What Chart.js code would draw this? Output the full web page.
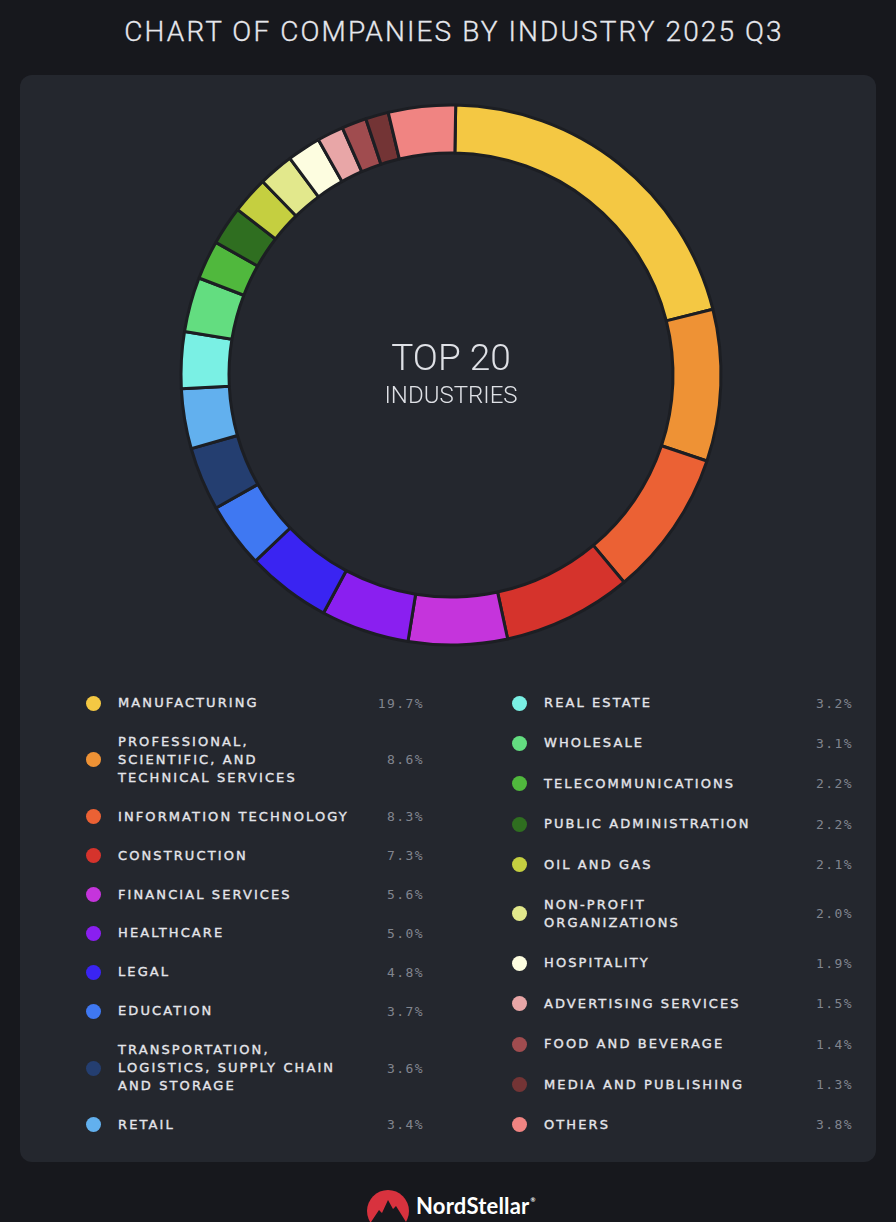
<!DOCTYPE html>
<html>
<head>
<meta charset="utf-8">
<script src="https://cdn.jsdelivr.net/npm/chart.js@4.4.1/dist/chart.umd.min.js"></script>
<style>
  html, body { margin: 0; padding: 0; }
  body { width: 896px; height: 1222px; background: #17181d; position: relative; overflow: hidden; font-family: "DejaVu Sans", sans-serif; }
  #title { position: absolute; left: 6px; top: 14px; width: 896px; text-align: center; color: #e6e7ec;
           font-family: Roboto, sans-serif; font-weight: 300; font-size: 28px; letter-spacing: 2.1px; line-height: 36px;
           -webkit-text-stroke: 0.3px #e6e7ec; }
  #card { position: absolute; left: 20px; top: 75px; width: 856px; height: 1087px; background: #24272e; border-radius: 12px; }
  #donut { position: absolute; left: 171px; top: 95px; }
  #center { position: absolute; left: 251px; top: 336px; width: 400px; text-align: center; color: #dfe1e6; font-family: Roboto, sans-serif; font-weight: 300; }
  #center .big { font-size: 37px; line-height: 44px; }
  #center .small { font-size: 24px; line-height: 30px; }
  .col { position: absolute; top: 694px; height: 440px; display: flex; flex-direction: column; justify-content: space-between; }
  #colL { left: 86px; width: 338px; }
  #colR { left: 512px; width: 341px; }
  .row { display: flex; align-items: center; }
  .dot { width: 15px; height: 15px; border-radius: 50%; flex: 0 0 15px; }
  .lbl { margin-left: 17px; color: #e4e5ea; font-size: 13px; letter-spacing: 2.1px; line-height: 18px; width: 232px;
         -webkit-text-stroke: 0.35px #e4e5ea; }
  .val { margin-left: auto; color: #81858e; font-family: "DejaVu Sans Mono", monospace; font-size: 13px; letter-spacing: 1.4px; }
  #logo { position: absolute; left: 366px; top: 1188px; }
  #brand { position: absolute; left: 416px; top: 1192px; color: #ffffff; font-family: Lato, sans-serif; font-weight: 700; font-size: 22px; letter-spacing: 0.2px; }
  #brand sup { font-size: 6px; vertical-align: 12px; margin-left: 1px; }
</style>
</head>
<body>
<div id="title">CHART OF COMPANIES BY INDUSTRY 2025 Q3</div>
<div id="card"></div>
<canvas id="donut" width="560" height="560"></canvas>
<div id="center"><div class="big">TOP 20</div><div class="small">INDUSTRIES</div></div>
<div class="col" id="colL"></div>
<div class="col" id="colR"></div>
<svg id="logo" width="46" height="34" viewBox="0 0 46 34">
  <circle cx="22" cy="23" r="21" fill="#d8323e"/>
  <polygon points="5,34 13,22 16,25 22,12 27,21 30,18 40,34" fill="#17181d"/>
</svg>
<div id="brand">NordStellar<sup>®</sup></div>

<script>
const categories = [
  "Manufacturing",
  "Professional, Scientific, and Technical Services",
  "Information Technology",
  "Construction",
  "Financial Services",
  "Healthcare",
  "Legal",
  "Education",
  "Transportation, Logistics, Supply Chain and Storage",
  "Retail",
  "Real Estate",
  "Wholesale",
  "Telecommunications",
  "Public Administration",
  "Oil and Gas",
  "Non-Profit Organizations",
  "Hospitality",
  "Advertising Services",
  "Food and Beverage",
  "Media and Publishing",
  "Others"
];

const shares = [19.7, 8.6, 8.3, 7.3, 5.6, 5.0, 4.8, 3.7, 3.6, 3.4, 3.2, 3.1, 2.2, 2.2, 2.1, 2.0, 1.9, 1.5, 1.4, 1.3, 3.8];

const colors = [
  "#f4c843", "#ee9235", "#eb6134", "#d5332c", "#c534dc", "#8a1ff0", "#3a24f2",
  "#3f78f2", "#243e70", "#62b0ee", "#7af0e4", "#63dd80", "#50b83d", "#2f6e20",
  "#c5cf40", "#e2e88c", "#fdfde0", "#e8a6a7", "#a04c4f", "#733435", "#f08482"
];

// legend split: first 10 on the left, rest on the right
const leftCount = 10;

function buildLegend() {
  const left = document.getElementById("colL");
  const right = document.getElementById("colR");
  categories.forEach((c, i) => {
    const row = `<div class="row">
      <div class="dot" style="background:${colors[i]}"></div>
      <div class="lbl">${c.toUpperCase()}</div>
      <div class="val">${shares[i].toFixed(1)}%</div>
    </div>`;
    (i < leftCount ? left : right).innerHTML += row;
  });
}

function renderChart() {
  const ctx = document.getElementById("donut").getContext("2d");
  new Chart(ctx, {
    type: "doughnut",
    data: {
      labels: categories,
      datasets: [{
        data: shares,
        backgroundColor: colors,
        borderColor: "#1c1e23",
        borderWidth: 3
      }]
    },
    options: {
      responsive: false,
      animation: false,
      rotation: 1,
      radius: 270,
      cutout: 229,
      plugins: {
        legend: { display: false },
        tooltip: { enabled: false }
      }
    }
  });
}

buildLegend();
renderChart();
</script>
</body>
</html>
